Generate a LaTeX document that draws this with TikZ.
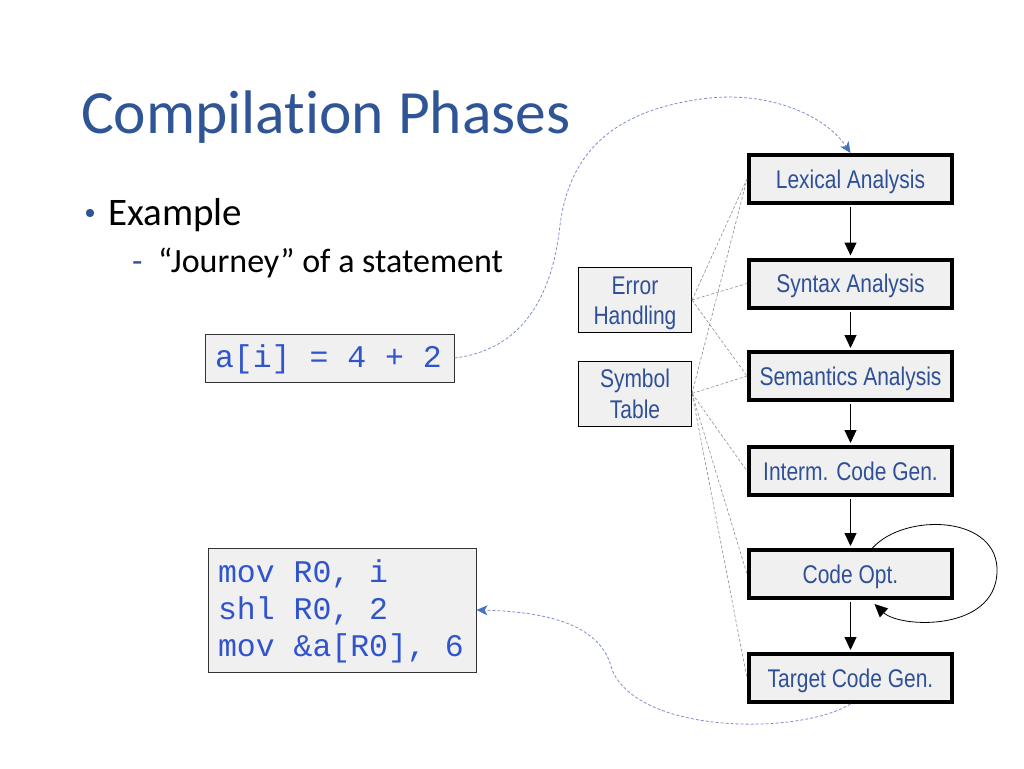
\documentclass[tikz,border=0pt]{standalone}
\usepackage{fontspec}
\usepackage{graphicx}
\setmainfont{Carlito}[Ligatures=NoCommon]
\newfontfamily\arialf{Liberation Sans}
\newfontfamily\monof{Liberation Mono}
\usetikzlibrary{arrows.meta,calc}
\definecolor{titleblue}{RGB}{47,85,151}
\definecolor{phaseblue}{RGB}{47,80,150}
\definecolor{codeblue}{RGB}{48,84,204}
\definecolor{boxgray}{RGB}{240,240,240}
\definecolor{dashgray}{RGB}{140,140,140}
\definecolor{curveblue}{RGB}{128,140,210}
\definecolor{arrowblue}{RGB}{68,114,196}
\newcommand{\nr}[1]{\scalebox{0.82}[1]{#1}}
\newcommand{\msp}{\hspace*{0.6em}}
\newcommand{\toprule}{\rule{0pt}{24pt}}
\newcommand{\botrule}{\rule[-5.5pt]{0pt}{5.5pt}}
\begin{document}
\begin{tikzpicture}[x=1pt,y=1pt,
 phase/.style={draw=black,line width=4pt,fill=boxgray,minimum width=203pt,minimum height=48pt,inner sep=0pt,text height=18.5pt,text depth=0pt,text=phaseblue,font=\arialf\fontsize{25.6}{30}\selectfont},
 side/.style={draw=black,line width=1pt,fill=boxgray,minimum width=113pt,minimum height=65pt,inner sep=0pt,align=center,text=phaseblue,font=\arialf\fontsize{25.6}{30.5}\selectfont},
 codebox/.style={draw=black!80,line width=1pt,fill=boxgray,text=codeblue,font=\monof\fontsize{31.5}{37}\selectfont,align=left,inner xsep=10pt,inner ysep=0pt},
 flow/.style={line width=1pt,shorten <=2pt,shorten >=2pt,-{Triangle[length=13pt,width=12pt]}},
 link/.style={draw=dashgray,line width=0.6pt,dash pattern=on 3pt off 2pt},
 journey/.style={draw=curveblue,line width=0.8pt,dash pattern=on 3pt off 2pt,-{Stealth[length=11pt,width=10pt,inset=3pt,color=arrowblue]}}
]
\useasboundingbox (0,0) rectangle (1024,-768);

% title and bullets
\node[anchor=base west,text=titleblue,font=\fontsize{61.5}{70}\selectfont,inner sep=0pt] (title) at (81,-133) {Compilation Phases};
\fill[titleblue] (90,-213) circle (4.2);
\node[anchor=base west,font=\fontsize{39}{45}\selectfont,inner sep=0pt] (ex) at (108,-225) {Example};
\node[anchor=base west,text=titleblue,font=\fontsize{34}{40}\selectfont,inner sep=0pt] (dash) at (132,-272) {-};
\node[anchor=base west,font=\fontsize{34}{40}\selectfont,inner sep=0pt] (jr) at (158,-272) {“Journey” of a statement};

% phases
\node[phase] (lex) at (850.5,-179) {\nr{Lexical Analysis}};
\node[phase] (syn) at (850.5,-283.5) {\nr{Syntax Analysis}};
\node[phase] (sem) at (850.5,-376) {\nr{Semantics Analysis}};
\node[phase] (int) at (850.5,-471) {\nr{Interm. Code Gen.}};
\node[phase] (co) at (850.5,-574) {\nr{Code Opt.}};
\node[phase] (tg) at (850.5,-678) {\nr{Target Code Gen.}};

% side boxes
\node[side] (err) at (635,-300) {\toprule\nr{Error}\\\nr{Handling}\botrule};
\node[side] (sym) at (635,-393.5) {\toprule\nr{Symbol}\\\nr{Table}\botrule};

% code boxes
\node[codebox,text width=229pt,minimum height=48pt,text height=19.5pt,text depth=0pt] (ai) at (329.5,-358) {a[i]\msp=\msp4\msp+\msp2};
\node[codebox,text width=248pt,minimum height=124pt] (mv) at (342,-610) {\rule{0pt}{26pt}mov\msp R0,\msp i\\shl\msp R0,\msp 2\\mov\msp\&a[R0],\msp 6\rule[-6pt]{0pt}{6pt}};

% flow arrows
\draw[flow] (lex) -- (syn);
\draw[flow] (syn) -- (sem);
\draw[flow] (sem) -- (int);
\draw[flow] (int) -- (co);
\draw[flow] (co) -- (tg);
\draw[line width=0.8pt,-{Triangle[length=13pt,width=12pt]}] ($(co.north)+(22,0)$) .. controls (905,-512) and (1000,-515) .. (997,-573) .. controls (994,-632) and (900,-628) .. ($(co.south)+(24,-4)$);

% dashed links
\draw[link] (err.east) -- (lex.west);
\draw[link] (err.east) -- (syn.west);
\draw[link] (err.east) -- (sem.west);
\draw[link] (sym.east) -- (lex.west);
\draw[link] (sym.east) -- (sem.west);
\draw[link] (sym.east) -- (int.west);
\draw[link] (sym.east) -- (co.west);
\draw[link] (sym.east) -- (tg.west);

% journey curves
\draw[journey] (ai.east) .. controls (520,-350) and (552,-300) .. (560,-225) .. controls (568,-165) and (600,-110) .. (710,-98) .. controls (770,-92) and (825,-115) .. (lex.north);
\draw[journey] (tg.south) .. controls (800,-735) and (640,-735) .. (612,-670) .. controls (603,-630) and (560,-612) .. (mv.east);
\end{tikzpicture}
\end{document}
